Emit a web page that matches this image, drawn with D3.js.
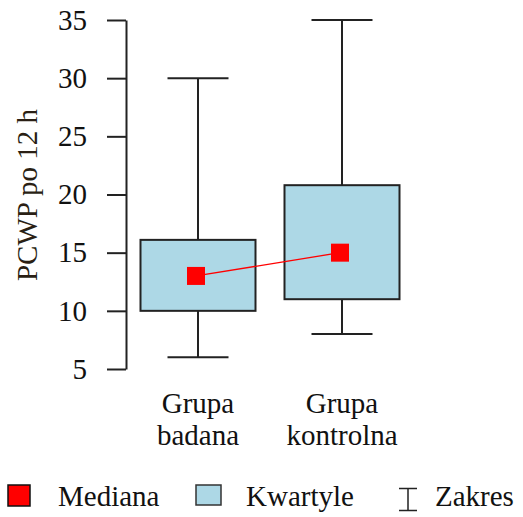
<!DOCTYPE html>
<html>
<head>
<meta charset="utf-8">
<script src="https://cdn.jsdelivr.net/npm/d3@7"></script>
<style>
  body { margin: 0; background: #fff; }
  svg text { font-family: "Liberation Serif", "Times New Roman", "DejaVu Serif", serif; fill: #111; }
</style>
</head>
<body>
<script>
// Chart data
var groups = [["Grupa", "badana"], ["Grupa", "kontrolna"]];
var minVals = [6, 8];
var q1Vals = [10, 11];
var medianVals = [13, 15];
var q3Vals = [16.1, 20.8];
var maxVals = [30, 35];
var yTicks = [5, 10, 15, 20, 25, 30, 35];
var legendLabels = ["Mediana", "Kwartyle", "Zakres"];

var width = 523,
    height = 517;
var serif = "Liberation Serif, Times New Roman, serif";

var svg = d3.select("body").append("svg")
    .attr("width", width)
    .attr("height", height);

var y = d3.scaleLinear()
    .domain([5, 35])
    .range([369, 20]);

var x = d3.scalePoint()
    .domain(d3.range(groups.length))
    .range([198, 342]);

// y axis
var yAxis = d3.axisLeft(y)
    .tickValues(yTicks)
    .tickSize(19)
    .tickPadding(20)
    .tickSizeOuter(0);

var gy = svg.append("g")
    .attr("transform", "translate(126,0)")
    .call(yAxis)
    .attr("font-family", serif)
    .attr("font-size", 29);
gy.select(".domain").attr("stroke", "#222").attr("stroke-width", 2);
gy.selectAll(".tick line").attr("stroke", "#222").attr("stroke-width", 2);
gy.selectAll(".tick text").attr("fill", "#111");

svg.append("text")
    .attr("transform", "translate(37,195) rotate(-90)")
    .attr("text-anchor", "middle")
    .attr("font-size", 29)
    .style("fill", "#2a1f14")
    .text("PCWP po 12 h");

// boxes
var boxW = 115, capW = 61, medSize = 18;
var data = d3.range(groups.length).map(function(i) {
  return {i: i, min: minVals[i], q1: q1Vals[i], med: medianVals[i], q3: q3Vals[i], max: maxVals[i]};
});

var box = svg.append("g").selectAll("g")
    .data(data)
  .enter().append("g");

box.append("line")
    .attr("x1", function(d) { return x(d.i); })
    .attr("x2", function(d) { return x(d.i); })
    .attr("y1", function(d) { return y(d.max); })
    .attr("y2", function(d) { return y(d.min); })
    .attr("stroke", "#222").attr("stroke-width", 2);

box.selectAll(".cap")
    .data(function(d) { return [[d.i, d.min], [d.i, d.max]]; })
  .enter().append("line")
    .attr("x1", function(d) { return x(d[0]) - capW / 2; })
    .attr("x2", function(d) { return x(d[0]) + capW / 2; })
    .attr("y1", function(d) { return y(d[1]); })
    .attr("y2", function(d) { return y(d[1]); })
    .attr("stroke", "#222").attr("stroke-width", 2);

box.append("rect")
    .attr("x", function(d) { return x(d.i) - boxW / 2; })
    .attr("width", boxW)
    .attr("y", function(d) { return y(d.q3); })
    .attr("height", function(d) { return y(d.q1) - y(d.q3); })
    .attr("fill", "#add8e6")
    .attr("stroke", "#222").attr("stroke-width", 2);

// median line
svg.append("path")
    .datum(data)
    .attr("d", d3.line()
        .x(function(d) { return x(d.i) - 2; })
        .y(function(d) { return y(d.med); }))
    .attr("fill", "none")
    .attr("stroke", "#f00")
    .attr("stroke-width", 1.3);

svg.append("g").selectAll("rect")
    .data(data)
  .enter().append("rect")
    .attr("x", function(d) { return x(d.i) - 2 - medSize / 2; })
    .attr("y", function(d) { return y(d.med) - medSize / 2; })
    .attr("width", medSize)
    .attr("height", medSize)
    .attr("fill", "#f00");

// category labels
var cat = svg.append("g").selectAll("text")
    .data(groups)
  .enter().append("text")
    .attr("text-anchor", "middle")
    .attr("x", function(d, i) { return x(i); })
    .attr("y", 413)
    .attr("font-size", 29);
cat.append("tspan").text(function(d) { return d[0]; });
cat.append("tspan")
    .attr("x", function(d, i) { return x(i); })
    .attr("dy", 32)
    .text(function(d) { return d[1]; });

// legend
var lg = svg.append("g");
lg.append("rect").attr("x", 8).attr("y", 485).attr("width", 22).attr("height", 21)
    .attr("fill", "#f00").attr("stroke", "#111").attr("stroke-width", 1.5);
lg.append("rect").attr("x", 196).attr("y", 485).attr("width", 25).attr("height", 20)
    .attr("fill", "#add8e6").attr("stroke", "#333").attr("stroke-width", 1.5);
lg.append("path").attr("d", "M399,488.5H417M408,488.5V510.5M399,510.5H417")
    .attr("fill", "none").attr("stroke", "#222").attr("stroke-width", 1.5);
lg.selectAll("text")
    .data(legendLabels)
  .enter().append("text")
    .attr("x", function(d, i) { return [58, 246, 435][i]; })
    .attr("y", 506)
    .attr("font-size", 29)
    .text(function(d) { return d; });
</script>
</body>
</html>
